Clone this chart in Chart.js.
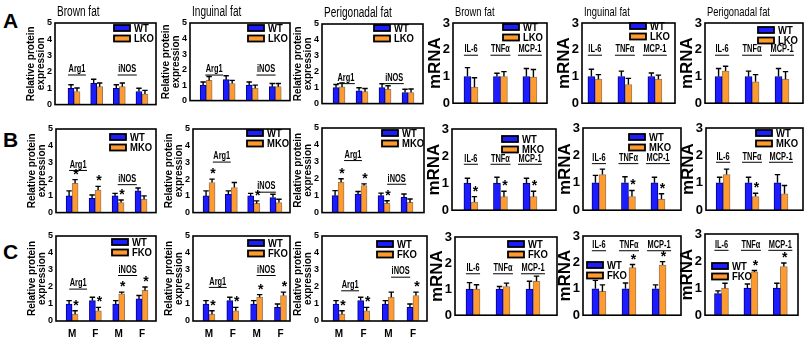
<!DOCTYPE html>
<html>
<head>
<meta charset="utf-8">
<script src="https://cdn.jsdelivr.net/npm/chart.js@4.4.1/dist/chart.umd.min.js"></script>
<style>
  html, body { margin: 0; padding: 0; background: #fff; }
  #fig { position: relative; width: 806px; height: 342px; overflow: hidden; background: #fff; }
  #fig canvas { position: absolute; }
  .letter { position: absolute; left: 3px; font: bold 21px "Liberation Sans", Arial, sans-serif; line-height: 1; color: #000; }
</style>
</head>
<body>
<div id="fig">
  <div class="letter" style="top:10px">A</div>
  <div class="letter" style="top:129px">B</div>
  <div class="letter" style="top:241px">C</div>
</div>
<script>
// ---- categories and labels ----
const sexLabels = ['M', 'F', 'M', 'F'];
const proteinGroups = ['Arg1', 'iNOS'];
const mrnaGenes = ['IL-6', 'TNFα', 'MCP-1'];
const tissues = ['Brown fat', 'Inguinal fat', 'Perigonadal fat'];
const knockouts = ['LKO', 'MKO', 'FKO'];
const proteinTicks = [0, 1, 2, 3, 4, 5];
const mrnaTicks = [0, 1, 2, 3];

// ---- LKO: relative protein (Arg1 M, Arg1 F, iNOS M, iNOS F) ----
const lkoBrownProtWT = [1.0, 1.3, 1.0, 0.8];
const lkoBrownProtWTErr = [0.22, 0.25, 0.22, 0.2];
const lkoBrownProtKO = [0.8, 1.1, 1.1, 0.65];
const lkoBrownProtKOErr = [0.22, 0.22, 0.22, 0.22];

const lkoIngProtWT = [1.0, 1.35, 1.0, 0.9];
const lkoIngProtWTErr = [0.2, 0.25, 0.2, 0.2];
const lkoIngProtKO = [1.3, 1.1, 0.8, 0.9];
const lkoIngProtKOErr = [0.25, 0.2, 0.2, 0.2];

const lkoPeriProtWT = [1.0, 0.8, 1.0, 0.7];
const lkoPeriProtWTErr = [0.2, 0.2, 0.25, 0.2];
const lkoPeriProtKO = [1.05, 0.75, 0.9, 0.7];
const lkoPeriProtKOErr = [0.25, 0.2, 0.22, 0.22];

// ---- LKO: mRNA (IL-6, TNFα, MCP-1) ----
const lkoBrownMrnaWT = [1.0, 1.0, 1.0];
const lkoBrownMrnaWTErr = [0.33, 0.12, 0.3];
const lkoBrownMrnaKO = [0.6, 1.0, 0.98];
const lkoBrownMrnaKOErr = [0.35, 0.18, 0.28];

const lkoIngMrnaWT = [1.0, 1.0, 1.0];
const lkoIngMrnaWTErr = [0.27, 0.2, 0.13];
const lkoIngMrnaKO = [0.9, 0.7, 0.9];
const lkoIngMrnaKOErr = [0.17, 0.23, 0.15];

const lkoPeriMrnaWT = [1.0, 1.0, 1.0];
const lkoPeriMrnaWTErr = [0.3, 0.2, 0.3];
const lkoPeriMrnaKO = [1.2, 0.8, 0.9];
const lkoPeriMrnaKOErr = [0.18, 0.27, 0.28];

// ---- MKO: relative protein ----
const mkoBrownProtWT = [1.0, 0.85, 1.0, 1.3];
const mkoBrownProtWTErr = [0.3, 0.2, 0.15, 0.17];
const mkoBrownProtKO = [1.75, 1.35, 0.6, 0.8];
const mkoBrownProtKOErr = [0.22, 0.22, 0.15, 0.2];
const mkoBrownProtSig = [1, 1, 1, 0];

const mkoIngProtWT = [1.0, 1.1, 1.0, 0.9];
const mkoIngProtWTErr = [0.3, 0.2, 0.15, 0.2];
const mkoIngProtKO = [1.8, 1.5, 0.55, 0.6];
const mkoIngProtKOErr = [0.2, 0.3, 0.15, 0.2];
const mkoIngProtSig = [1, 0, 1, 0];

const mkoPeriProtWT = [1.0, 1.1, 1.0, 0.9];
const mkoPeriProtWTErr = [0.3, 0.15, 0.15, 0.2];
const mkoPeriProtKO = [1.8, 1.6, 0.55, 0.6];
const mkoPeriProtKOErr = [0.2, 0.1, 0.15, 0.2];
const mkoPeriProtSig = [1, 1, 1, 0];

// ---- MKO: mRNA ----
const mkoBrownMrnaWT = [1.0, 1.0, 1.0];
const mkoBrownMrnaWTErr = [0.18, 0.22, 0.18];
const mkoBrownMrnaKO = [0.3, 0.5, 0.5];
const mkoBrownMrnaKOErr = [0.2, 0.2, 0.2];
const mkoBrownMrnaSig = [1, 1, 1];

const mkoIngMrnaWT = [1.0, 1.0, 1.0];
const mkoIngMrnaWTErr = [0.27, 0.22, 0.2];
const mkoIngMrnaKO = [1.3, 0.5, 0.4];
const mkoIngMrnaKOErr = [0.2, 0.22, 0.2];
const mkoIngMrnaSig = [0, 1, 1];

const mkoPeriMrnaWT = [1.0, 1.0, 1.0];
const mkoPeriMrnaWTErr = [0.2, 0.2, 0.3];
const mkoPeriMrnaKO = [1.3, 0.5, 0.6];
const mkoPeriMrnaKOErr = [0.2, 0.12, 0.3];
const mkoPeriMrnaSig = [0, 1, 0];

// ---- FKO: relative protein ----
const fkoBrownProtWT = [1.0, 1.2, 1.0, 1.3];
const fkoBrownProtWTErr = [0.2, 0.2, 0.2, 0.2];
const fkoBrownProtKO = [0.4, 0.6, 1.6, 1.8];
const fkoBrownProtKOErr = [0.2, 0.2, 0.1, 0.2];
const fkoBrownProtSig = [1, 1, 1, 1];

const fkoIngProtWT = [1.0, 1.2, 1.0, 0.8];
const fkoIngProtWTErr = [0.2, 0.2, 0.2, 0.2];
const fkoIngProtKO = [0.4, 0.6, 1.4, 1.5];
const fkoIngProtKOErr = [0.2, 0.2, 0.15, 0.2];
const fkoIngProtSig = [1, 1, 1, 1];

const fkoPeriProtWT = [1.0, 1.2, 1.0, 0.8];
const fkoPeriProtWTErr = [0.2, 0.2, 0.2, 0.2];
const fkoPeriProtKO = [0.4, 0.6, 1.4, 1.5];
const fkoPeriProtKOErr = [0.2, 0.2, 0.3, 0.2];
const fkoPeriProtSig = [1, 1, 0, 1];

// ---- FKO: mRNA ----
const fkoBrownMrnaWT = [1.0, 1.0, 1.0];
const fkoBrownMrnaWTErr = [0.25, 0.1, 0.3];
const fkoBrownMrnaKO = [1.0, 1.1, 1.3];
const fkoBrownMrnaKOErr = [0.17, 0.13, 0.2];

const fkoIngMrnaWT = [1.0, 1.0, 1.0];
const fkoIngMrnaWTErr = [0.32, 0.22, 0.15];
const fkoIngMrnaKO = [0.9, 1.8, 1.9];
const fkoIngMrnaKOErr = [0.25, 0.12, 0.13];
const fkoIngMrnaSig = [0, 1, 1];

const fkoPeriMrnaWT = [0.8, 1.0, 1.0];
const fkoPeriMrnaWTErr = [0.1, 0.15, 0.18];
const fkoPeriMrnaKO = [1.0, 1.6, 1.8];
const fkoPeriMrnaKOErr = [0.18, 0.05, 0.13];
const fkoPeriMrnaSig = [0, 1, 1];

// ---- styling ----
const SANS = '"Liberation Sans", Arial, Helvetica, sans-serif';
const NARROW = '"Liberation Sans Narrow", "Arial Narrow", "Liberation Sans", Arial, sans-serif';
const WT_FILL = '#1c1cff', WT_EDGE = '#00008a';
const KO_FILL = '#ff9b2e', KO_EDGE = '#9c7b5c';

// ---- panel layout: plot box [left, top, right, bottom] in page pixels ----
const panels = [
  // row A
  { kind: 'protein', box: [55, 23, 156, 109], xr: [-0.84, 3.62], title: tissues[0], ko: knockouts[0],
    wt: lkoBrownProtWT, wtErr: lkoBrownProtWTErr, kov: lkoBrownProtKO, koErr: lkoBrownProtKOErr,
    legend: [59, 5], labX: [0.13, 2.35], labY: [2.15, 2.15] },
  { kind: 'protein', box: [190, 23, 290, 105], xr: [-0.7, 3.64], title: tissues[1], ko: knockouts[0],
    wt: lkoIngProtWT, wtErr: lkoIngProtWTErr, kov: lkoIngProtKO, koErr: lkoIngProtKOErr,
    legend: [58, 5], labX: [0.35, 2.6], labY: [2.0, 2.0] },
  { kind: 'protein', box: [322, 24, 423, 108], xr: [-0.74, 3.65], title: tissues[2], ko: knockouts[0],
    wt: lkoPeriProtWT, wtErr: lkoPeriProtWTErr, kov: lkoPeriProtKO, koErr: lkoPeriProtKOErr,
    legend: [52, 4], labX: [0.3, 2.4], labY: [1.6, 1.6] },
  { kind: 'mrna', box: [453, 23, 547, 110], xr: [-0.61, 2.58], title: tissues[0], ko: knockouts[0],
    wt: lkoBrownMrnaWT, wtErr: lkoBrownMrnaWTErr, kov: lkoBrownMrnaKO, koErr: lkoBrownMrnaKOErr,
    legend: [50, 4], labY: 2.0 },
  { kind: 'mrna', box: [582, 23, 675, 110], xr: [-0.43, 2.67], title: tissues[1], ko: knockouts[0],
    wt: lkoIngMrnaWT, wtErr: lkoIngMrnaWTErr, kov: lkoIngMrnaKO, koErr: lkoIngMrnaKOErr,
    legend: [48, 3], labY: 2.0 },
  { kind: 'mrna', box: [705, 23, 803, 110], xr: [-0.57, 2.7], title: tissues[2], ko: knockouts[0],
    wt: lkoPeriMrnaWT, wtErr: lkoPeriMrnaWTErr, kov: lkoPeriMrnaKO, koErr: lkoPeriMrnaKOErr,
    legend: [53, 7], labY: 2.0 },
  // row B
  { kind: 'protein', box: [56, 129, 156, 217], xr: [-0.7, 3.65], ko: knockouts[1],
    wt: mkoBrownProtWT, wtErr: mkoBrownProtWTErr, kov: mkoBrownProtKO, koErr: mkoBrownProtKOErr, sig: mkoBrownProtSig,
    legend: [54, 8], labX: [0.26, 2.4], labY: [2.85, 2.0] },
  { kind: 'protein', box: [193, 129, 290, 217], xr: [-0.72, 3.63], ko: knockouts[1],
    wt: mkoIngProtWT, wtErr: mkoIngProtWTErr, kov: mkoIngProtKO, koErr: mkoIngProtKOErr, sig: mkoIngProtSig,
    legend: [54, 4], labX: [0.57, 2.57], labY: [3.35, 1.55] },
  { kind: 'protein', box: [322, 128, 424, 217], xr: [-0.7, 3.74], ko: knockouts[1],
    wt: mkoPeriProtWT, wtErr: mkoPeriProtWTErr, kov: mkoPeriProtKO, koErr: mkoPeriProtKOErr, sig: mkoPeriProtSig,
    legend: [60, 5], labX: [0.65, 2.55], labY: [3.4, 2.0] },
  { kind: 'mrna', box: [452, 129, 556, 217], xr: [-0.64, 2.88], ko: knockouts[1],
    wt: mkoBrownMrnaWT, wtErr: mkoBrownMrnaWTErr, kov: mkoBrownMrnaKO, koErr: mkoBrownMrnaKOErr, sig: mkoBrownMrnaSig,
    legend: [50, 10], labY: 1.9 },
  { kind: 'mrna', box: [583, 128, 681, 217], xr: [-0.54, 2.78], ko: knockouts[1],
    wt: mkoIngMrnaWT, wtErr: mkoIngMrnaWTErr, kov: mkoIngMrnaKO, koErr: mkoIngMrnaKOErr, sig: mkoIngMrnaSig,
    legend: [46, 9], labY: 1.9 },
  { kind: 'mrna', box: [706, 128, 803, 217], xr: [-0.59, 2.76], ko: knockouts[1],
    wt: mkoPeriMrnaWT, wtErr: mkoPeriMrnaWTErr, kov: mkoPeriMrnaKO, koErr: mkoPeriMrnaKOErr, sig: mkoPeriMrnaSig,
    legend: [50, 5], labY: 1.95 },
  // row C
  { kind: 'protein', box: [56, 236, 156, 321], xr: [-0.69, 3.6], ko: knockouts[2], xLabels: sexLabels,
    wt: fkoBrownProtWT, wtErr: fkoBrownProtWTErr, kov: fkoBrownProtKO, koErr: fkoBrownProtKOErr, sig: fkoBrownProtSig,
    legend: [56, 6], labX: [0.26, 2.38], labY: [2.2, 3.0] },
  { kind: 'protein', box: [193, 236, 290, 321], xr: [-0.67, 3.4], ko: knockouts[2], xLabels: sexLabels,
    wt: fkoIngProtWT, wtErr: fkoIngProtWTErr, kov: fkoIngProtKO, koErr: fkoIngProtKOErr, sig: fkoIngProtSig,
    legend: [55, 7], labX: [0.37, 2.4], labY: [2.3, 3.0] },
  { kind: 'protein', box: [322, 236, 427, 321], xr: [-0.69, 3.57], ko: knockouts[2], xLabels: sexLabels,
    wt: fkoPeriProtWT, wtErr: fkoPeriProtWTErr, kov: fkoPeriProtKO, koErr: fkoPeriProtKOErr, sig: fkoPeriProtSig,
    legend: [55, 8], labX: [0.45, 2.5], labY: [2.1, 2.9] },
  { kind: 'mrna', box: [455, 237, 557, 322], xr: [-0.6, 2.8], ko: knockouts[2],
    wt: fkoBrownMrnaWT, wtErr: fkoBrownMrnaWTErr, kov: fkoBrownMrnaKO, koErr: fkoBrownMrnaKOErr,
    legend: [53, 7], labY: 1.8 },
  { kind: 'mrna', box: [583, 236, 681, 322], xr: [-0.53, 2.73], ko: knockouts[2],
    wt: fkoIngMrnaWT, wtErr: fkoIngMrnaWTErr, kov: fkoIngMrnaKO, koErr: fkoIngMrnaKOErr, sig: fkoIngMrnaSig,
    legend: [4, 29], labY: 2.65 },
  { kind: 'mrna', box: [705, 234, 798, 322], xr: [-0.56, 2.6], ko: knockouts[2],
    wt: fkoPeriMrnaWT, wtErr: fkoPeriMrnaWTErr, kov: fkoPeriMrnaKO, koErr: fkoPeriMrnaKOErr, sig: fkoPeriMrnaSig,
    legend: [7, 32], labY: 2.6 }
];

// condensed text helper (the figure uses a narrow face)
function narrowText(ctx, text, x, y, font, sx, align) {
  ctx.save();
  ctx.font = font;
  ctx.textAlign = align || 'left';
  ctx.translate(x, y);
  ctx.scale(sx, 1);
  ctx.fillText(text, 0, 0);
  const w = ctx.measureText(text).width * sx;
  ctx.restore();
  return w;
}

// error bars, significance marks, group labels, legend, axis titles and frame
function drawDecor(chart, p) {
  const ctx = chart.ctx, ca = chart.chartArea;
  const xs = chart.scales.x, ys = chart.scales.y;
  const prot = p.kind === 'protein';
  ctx.save();
  ctx.fillStyle = '#000';
  ctx.strokeStyle = '#000';

  // error bars (upper whisker only)
  const series = [[p.wt, p.wtErr], [p.kov, p.koErr]];
  const capTop = [[], []];
  series.forEach(([vals, errs], d) => {
    chart.getDatasetMeta(d).data.forEach((bar, i) => {
      const yTop = ys.getPixelForValue(vals[i] + errs[i]);
      capTop[d][i] = yTop;
      ctx.lineWidth = 1.4;
      ctx.beginPath();
      ctx.moveTo(bar.x, bar.y);
      ctx.lineTo(bar.x, yTop);
      ctx.moveTo(bar.x - 2.7, yTop);
      ctx.lineTo(bar.x + 2.7, yTop);
      ctx.stroke();
    });
  });

  // significance asterisks above the knockout bars
  if (p.sig) {
    ctx.font = 'bold 14px ' + SANS;
    ctx.textAlign = 'center';
    ctx.textBaseline = 'alphabetic';
    p.sig.forEach((s, i) => {
      if (!s) return;
      const bar = chart.getDatasetMeta(1).data[i];
      ctx.fillText('*', bar.x + 1, capTop[1][i] - 1);
    });
  }

  // underlined group labels
  ctx.textBaseline = 'middle';
  const groupItems = prot
    ? proteinGroups.map((g, k) => [g, p.labX[k], p.labY[k]])
    : mrnaGenes.map((g, k) => [g, k, p.labY]);
  groupItems.forEach(([text, xv, yv]) => {
    const x = xs.getPixelForValue(xv), y = ys.getPixelForValue(yv);
    const w = narrowText(ctx, text, x, y, 'bold 10px ' + SANS, 0.74, 'center');
    ctx.lineWidth = 1;
    ctx.beginPath();
    ctx.moveTo(x - w / 2 - 0.5, y + 5.5);
    ctx.lineTo(x + w / 2 + 0.5, y + 5.5);
    ctx.stroke();
  });

  // legend
  [['WT', WT_FILL], [p.ko, KO_FILL]].forEach(([label, fill], k) => {
    const lx = ca.left + p.legend[0];
    const yc = ca.top + p.legend[1] + k * 10.5;
    ctx.fillStyle = fill;
    ctx.fillRect(lx, yc - 3, 16, 6);
    ctx.lineWidth = 1.8;
    ctx.strokeRect(lx, yc - 3, 16, 6);
    ctx.fillStyle = '#000';
    ctx.textBaseline = 'middle';
    narrowText(ctx, label, lx + 20, yc + 0.5, 'bold 11px ' + SANS, 0.86, 'left');
  });

  // y-axis title
  const midY = (ca.top + ca.bottom) / 2;
  ctx.save();
  ctx.textAlign = 'center';
  ctx.textBaseline = 'middle';
  if (prot) {
    ctx.font = 'bold 10px ' + SANS;
    ctx.translate(ca.left - 24, midY);
    ctx.rotate(-Math.PI / 2);
    ctx.fillText('Relative protein', 0, 0);
    ctx.fillText('expression', 0, 10);
  } else {
    ctx.font = 'bold 17px ' + SANS;
    ctx.translate(ca.left - 18, midY);
    ctx.rotate(-Math.PI / 2);
    ctx.fillText('mRNA', 0, 0);
  }
  ctx.restore();

  // panel title (top row only)
  if (p.title) {
    ctx.textBaseline = 'alphabetic';
    narrowText(ctx, p.title, ca.left + 2, ca.top - 7, (prot ? '14px ' : '13px ') + SANS, 0.72, 'left');
  }

  // frame
  ctx.lineWidth = 1.6;
  ctx.strokeRect(ca.left, ca.top, ca.right - ca.left, ca.bottom - ca.top);
  ctx.restore();
}

const fig = document.getElementById('fig');

function buildPanel(p) {
  const prot = p.kind === 'protein';
  const L = 36, T = 26, R = 14, B = p.xLabels ? 22 : 4;
  const [x0, y0, x1, y1] = p.box;
  const W = (x1 - x0) + L + R, H = (y1 - y0) + T + B;
  const cv = document.createElement('canvas');
  cv.width = W; cv.height = H;
  cv.style.left = (x0 - L) + 'px';
  cv.style.top = (y0 - T) + 'px';
  cv.style.width = W + 'px';
  cv.style.height = H + 'px';
  fig.appendChild(cv);

  const pts = arr => arr.map((v, i) => ({ x: i, y: v }));
  const thick = prot ? 6 : 7;
  const ticksY = prot ? proteinTicks : mrnaTicks;

  new Chart(cv, {
    type: 'bar',
    data: {
      datasets: [
        { label: 'WT', data: pts(p.wt), backgroundColor: WT_FILL, borderColor: WT_EDGE, borderWidth: 1, barThickness: thick },
        { label: p.ko, data: pts(p.kov), backgroundColor: KO_FILL, borderColor: KO_EDGE, borderWidth: 1, barThickness: thick }
      ]
    },
    options: {
      responsive: false,
      animation: false,
      devicePixelRatio: 1,
      events: [],
      layout: { padding: { left: 0, top: T, right: R, bottom: 0 } },
      plugins: { legend: { display: false }, tooltip: { enabled: false } },
      scales: {
        x: {
          type: 'linear', min: p.xr[0], max: p.xr[1], offset: false,
          grid: { display: false, drawTicks: false }, border: { display: false },
          afterBuildTicks: s => { s.ticks = p.wt.map((_, i) => ({ value: i })); },
          afterFit: s => { s.height = B; },
          ticks: {
            display: !!p.xLabels, padding: 7, color: '#000',
            font: { family: SANS, size: 10, weight: 'bold' },
            callback: v => (p.xLabels ? p.xLabels[v] : '')
          }
        },
        y: {
          min: ticksY[0], max: ticksY[ticksY.length - 1],
          grid: { display: false, drawTicks: false }, border: { display: false },
          afterFit: s => { s.width = L; },
          ticks: {
            stepSize: 1, padding: 3, color: '#000',
            font: { family: NARROW, size: prot ? 9 : 13, weight: 'bold' }
          }
        }
      }
    },
    plugins: [{ id: 'panelDecor', afterDatasetsDraw: c => drawDecor(c, p) }]
  });
}

panels.forEach(buildPanel);
</script>
</body>
</html>
